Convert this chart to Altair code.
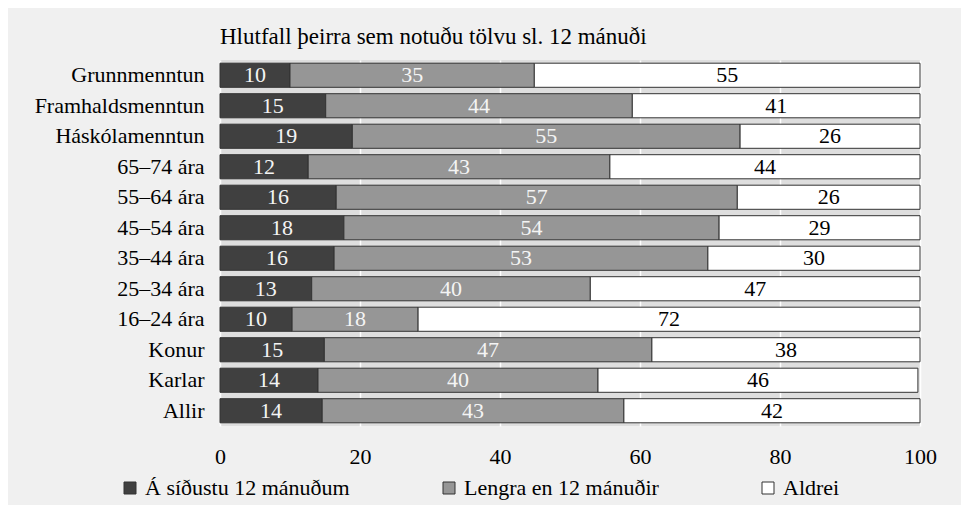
import altair as alt
import pandas as pd

categories = ["Grunnmenntun", "Framhaldsmenntun", "Háskólamenntun", "65–74 ára", "55–64 ára",
              "45–54 ára", "35–44 ára", "25–34 ára", "16–24 ára", "Konur", "Karlar", "Allir"]
series = ["Á síðustu 12 mánuðum", "Lengra en 12 mánuðir", "Aldrei"]

# segment lengths (percent)
recent = [10.0, 15.1, 18.9, 12.6, 16.6, 17.7, 16.3, 13.1, 10.3, 14.9, 14.0, 14.6]
longer = [34.9, 43.8, 55.4, 43.1, 57.3, 53.6, 53.4, 39.8, 18.0, 46.8, 40.0, 43.1]
never = [55.1, 41.1, 25.7, 44.3, 26.1, 28.7, 30.3, 47.1, 71.7, 38.3, 45.7, 42.3]

# printed labels
recent_lbl = [10, 15, 19, 12, 16, 18, 16, 13, 10, 15, 14, 14]
longer_lbl = [35, 44, 55, 43, 57, 54, 53, 40, 18, 47, 40, 43]
never_lbl = [55, 41, 26, 44, 26, 29, 30, 47, 72, 38, 46, 42]

colors = ["#404040", "#969696", "#ffffff"]
FONT = "Liberation Serif"
FS = 22

rows = []
for i, c in enumerate(categories):
    for k, (vals, lbls) in enumerate([(recent, recent_lbl), (longer, longer_lbl), (never, never_lbl)]):
        rows.append({"cat": c, "series": series[k], "order": k, "value": vals[i], "label": str(lbls[i])})
df = pd.DataFrame(rows)

base = alt.Chart(df).transform_stack(
    stack="value", as_=["x0", "x1"], groupby=["cat"], sort=[alt.SortField("order")]
).transform_calculate(xm="(datum.x0 + datum.x1) / 2")

y_enc = alt.Y("cat:N", sort=categories, title=None,
              scale=alt.Scale(paddingInner=0.21, paddingOuter=0.105),
              axis=alt.Axis(labelFont=FONT, labelFontSize=FS, labelColor="#000000",
                            ticks=False, domain=False, labelPadding=16, grid=False, labelLimit=300))

bars = base.mark_bar(stroke="#333333", strokeWidth=1).encode(
    x=alt.X("x0:Q", title=None, scale=alt.Scale(domain=[0, 100], nice=False),
            axis=alt.Axis(values=[0, 20, 40, 60, 80, 100], labelFont=FONT, labelFontSize=FS,
                          labelColor="#000000", ticks=False, domain=False, labelPadding=20,
                          labelFlush=False, grid=True, gridColor="#ffffff", gridWidth=1.5)),
    x2="x1:Q",
    y=y_enc,
    color=alt.Color("series:N", sort=series, title=None,
                    scale=alt.Scale(domain=series, range=colors),
                    legend=alt.Legend(orient="none", legendX=-101, legendY=417, direction="horizontal",
                                      columns=3, gridAlign="all", columnPadding=88,
                                      symbolType="square", symbolSize=144,
                                      symbolStrokeColor="#333333", symbolStrokeWidth=1,
                                      labelFont=FONT, labelFontSize=FS, labelColor="#000000",
                                      labelOffset=4, labelLimit=400)),
    order=alt.Order("order:Q"),
)

texts = base.mark_text(font=FONT, fontSize=FS, baseline="middle", align="center").encode(
    x=alt.X("xm:Q"),
    y=alt.Y("cat:N", sort=categories),
    text="label:N",
    color=alt.condition(alt.datum.series == "Aldrei", alt.value("#000000"), alt.value("#f4f4f4")),
)

chart = alt.layer(bars, texts).properties(
    width=700,
    height=366,
    background="#f0f0f0",
    padding={"left": 212, "top": 52, "right": 41, "bottom": 79},
    autosize=alt.AutoSizeParams(type="none"),
    title=alt.TitleParams("Hlutfall þeirra sem notuðu tölvu sl. 12 mánuði", anchor="start",
                          frame="group", font=FONT, fontSize=23, fontWeight="normal",
                          color="#000000", offset=11),
).configure_view(stroke=None, fill="#dedede")

chart.save("out.html", embed_options={"renderer": "svg", "actions": False})
